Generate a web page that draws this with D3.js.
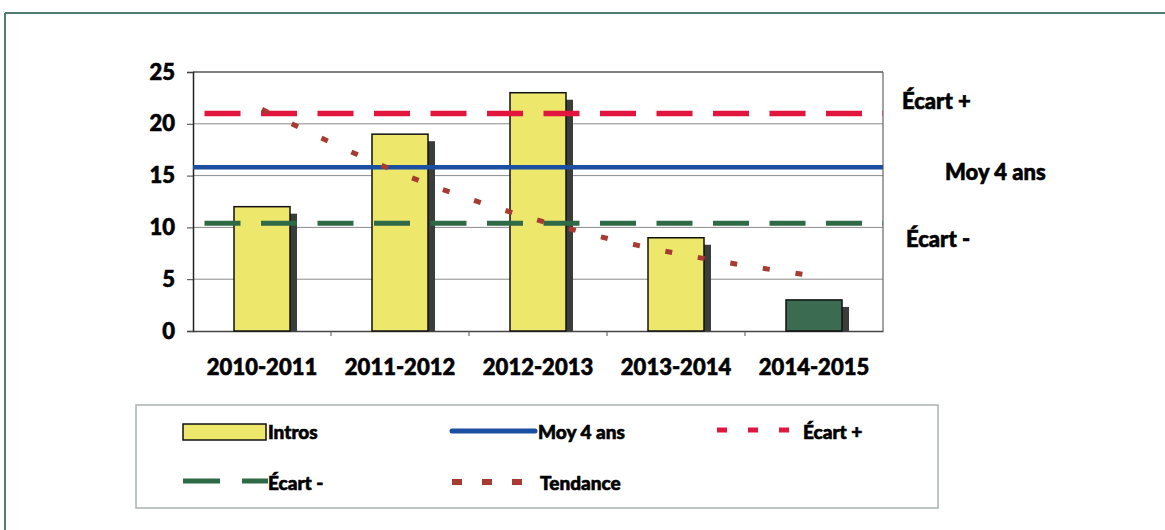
<!DOCTYPE html>
<html>
<head>
<meta charset="utf-8">
<script src="https://cdn.jsdelivr.net/npm/d3@7"></script>
<style>
  html, body { margin:0; padding:0; background:#fff; }
  svg { display:block; font-family: Lato, "Open Sans", sans-serif; font-weight:900; }
  svg text { stroke:#000; stroke-width:0.6px; paint-order: stroke fill; }
</style>
</head>
<body>
<svg id="chart" width="1165" height="530"></svg>
<script>
// ---- data ----
const categories = ["2010-2011", "2011-2012", "2012-2013", "2013-2014", "2014-2015"];
const intros = [12, 19, 23, 9, 3];
const tendance = [21.4, 15.25, 10.7, 7.5, 5.3];
const moy4ans = [15.8];
const ecartPlus = [21.0];
const ecartMinus = [10.4];
const yTicks = [0, 5, 10, 15, 20, 25];

// ---- layout ----
const svg = d3.select("#chart");
const plot = { left: 193, right: 883, top: 72, bottom: 331 };

const x = d3.scaleBand().domain(categories).range([plot.left, plot.right]).paddingInner(0).paddingOuter(0);
const y = d3.scaleLinear().domain([0, 25]).range([plot.bottom, plot.top]);

const C = {
  yellow: "#ede76b", green: "#3b6b51", shadow: "#3a3e3a",
  blue: "#1b4fa2", red: "#e2153f", dgreen: "#2f6a47", trend: "#a63c31",
  grid: "#8a8a8a", frame: "#4f7d72"
};
const W = 900;

// outer frame (top & left visible)
svg.append("line").attr("x1", 5).attr("x2", 1165).attr("y1", 13).attr("y2", 13).attr("stroke", C.frame).attr("stroke-width", 2);
svg.append("line").attr("x1", 5).attr("x2", 5).attr("y1", 13).attr("y2", 530).attr("stroke", C.frame).attr("stroke-width", 2);

// gridlines
svg.append("g").selectAll("line").data(yTicks.filter(d => d > 0)).join("line")
  .attr("x1", plot.left).attr("x2", plot.right)
  .attr("y1", d => y(d)).attr("y2", d => y(d))
  .attr("stroke", d => d === 25 ? "#555" : C.grid).attr("stroke-width", d => d === 25 ? 1.5 : 1);
// right border
svg.append("line").attr("x1", plot.right).attr("x2", plot.right).attr("y1", plot.top).attr("y2", plot.bottom)
  .attr("stroke", "#666").attr("stroke-width", 1.2);

// y axis
const yAxis = d3.axisLeft(y).tickValues(yTicks).tickSize(6).tickPadding(12);
const gy = svg.append("g").attr("transform", `translate(${plot.left},0)`).call(yAxis);
gy.select(".domain").attr("stroke", "#222").attr("stroke-width", 1.5);
gy.selectAll(".tick line").attr("stroke", "#444");
gy.selectAll("text").attr("font-size", 22).attr("font-weight", W).attr("fill", "#000")
  .attr("font-family", "Lato, sans-serif");

// x axis
const xAxis = d3.axisBottom(x).tickSize(0).tickPadding(28);
const gx = svg.append("g").attr("transform", `translate(0,${plot.bottom})`).call(xAxis);
gx.select(".domain").attr("stroke", "#444").attr("stroke-width", 1.5);
gx.selectAll("text").attr("font-size", 22).attr("font-weight", W).attr("fill", "#000")
  .attr("font-family", "Lato, sans-serif");
// boundary ticks
gx.append("g").selectAll("line").data(categories.slice(1)).join("line")
  .attr("x1", d => x(d)).attr("x2", d => x(d)).attr("y1", 0).attr("y2", 5).attr("stroke", "#555");

// bars with shadow
const bw = 56, off = 7;
const bars = svg.append("g");
bars.selectAll("rect.shadow").data(intros).join("rect").attr("class", "shadow")
  .attr("x", (d, i) => x(categories[i]) + x.bandwidth() / 2 - bw / 2 + off)
  .attr("y", d => y(d) + off)
  .attr("width", bw)
  .attr("height", d => Math.max(0, y(0) - y(d) - off))
  .attr("fill", C.shadow);
bars.selectAll("rect.bar").data(intros).join("rect").attr("class", "bar")
  .attr("x", (d, i) => x(categories[i]) + x.bandwidth() / 2 - bw / 2)
  .attr("y", d => y(d))
  .attr("width", bw)
  .attr("height", d => y(0) - y(d))
  .attr("fill", (d, i) => i === categories.length - 1 ? C.green : C.yellow)
  .attr("stroke", "#111").attr("stroke-width", 1.5);

// reference lines
function hline(vals, color, dash, width, offset) {
  svg.append("g").selectAll("line").data(vals).join("line")
    .attr("x1", plot.left).attr("x2", plot.right)
    .attr("y1", d => y(d)).attr("y2", d => y(d))
    .attr("stroke", color).attr("stroke-width", width)
    .attr("stroke-dasharray", dash).attr("stroke-dashoffset", offset || 0);
}
hline(ecartMinus, C.dgreen, "36,20.5", 5, 45);
hline(moy4ans, C.blue, null, 4.5);
hline(ecartPlus, C.red, "36,20.5", 5.5, 45);

// trend (dotted)
const line = d3.line()
  .x((d, i) => x(categories[i]) + x.bandwidth() / 2)
  .y(d => y(d))
  .curve(d3.curveNatural);
svg.append("path").datum(tendance).attr("d", line)
  .attr("fill", "none").attr("stroke", C.trend).attr("stroke-width", 5)
  .attr("stroke-dasharray", "7,26");

// right labels
const rl = svg.append("g").attr("font-size", 22).attr("font-weight", W).attr("fill", "#000");
rl.append("text").attr("x", 902).attr("y", y(ecartPlus[0]) - 4).text("Écart +");
rl.append("text").attr("x", 945).attr("y", y(moy4ans[0]) + 13).text("Moy 4 ans");
rl.append("text").attr("x", 906).attr("y", y(ecartMinus[0]) + 24).text("Écart -");

// legend
const lg = svg.append("g");
lg.append("rect").attr("x", 136).attr("y", 405).attr("width", 802).attr("height", 103)
  .attr("fill", "#fff").attr("stroke", "#aab2ad").attr("stroke-width", 1.5);
const lt = (xx, yy, t) => lg.append("text").attr("x", xx).attr("y", yy).attr("font-size", 19)
  .attr("font-weight", W).attr("fill", "#000").text(t);
lg.append("rect").attr("x", 183).attr("y", 424).attr("width", 83).attr("height", 16)
  .attr("fill", C.yellow).attr("stroke", "#111").attr("stroke-width", 1.5);
lt(268, 439, "Intros");
lg.append("line").attr("x1", 452).attr("x2", 535).attr("y1", 431).attr("y2", 431)
  .attr("stroke", C.blue).attr("stroke-width", 5).attr("stroke-linecap", "round");
lt(538, 439, "Moy 4 ans");
lg.append("line").attr("x1", 717).attr("x2", 790).attr("y1", 430).attr("y2", 430)
  .attr("stroke", C.red).attr("stroke-width", 5).attr("stroke-dasharray", "10,21");
lt(803, 439, "Écart +");
lg.append("line").attr("x1", 183).attr("x2", 268).attr("y1", 481).attr("y2", 481)
  .attr("stroke", C.dgreen).attr("stroke-width", 5).attr("stroke-dasharray", "37,22");
lt(268, 490, "Écart -");
lg.append("line").attr("x1", 452).attr("x2", 525).attr("y1", 482).attr("y2", 482)
  .attr("stroke", C.trend).attr("stroke-width", 6).attr("stroke-dasharray", "10,20");
lt(540, 490, "Tendance");
</script>
</body>
</html>
